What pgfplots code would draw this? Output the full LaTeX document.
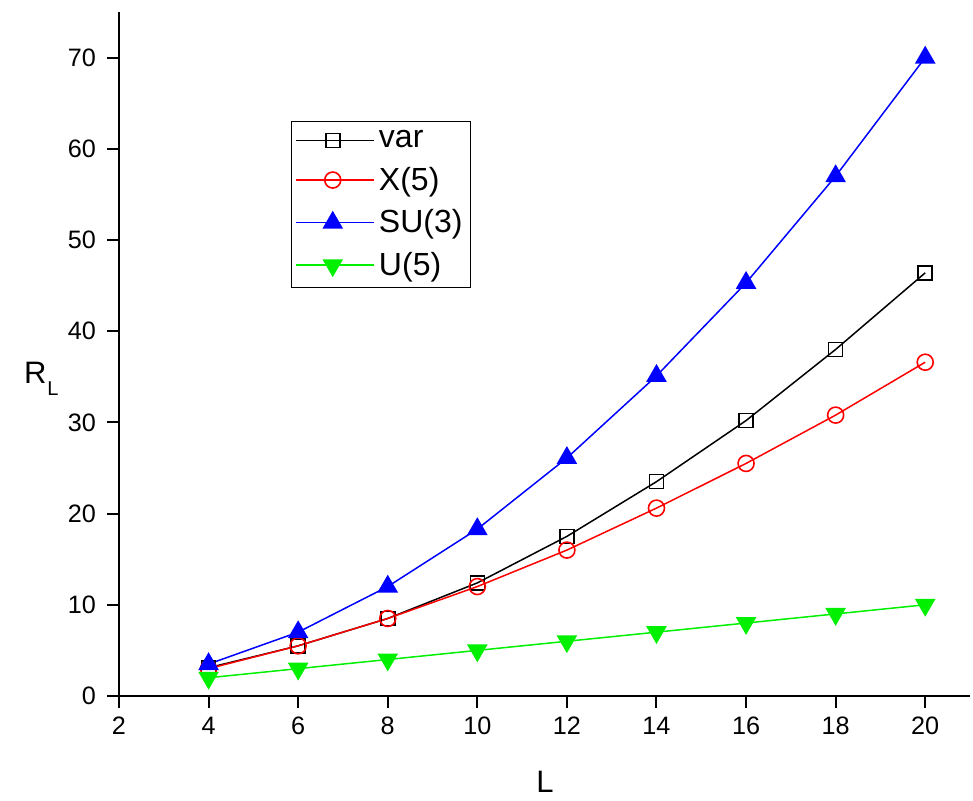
\documentclass[border=0pt]{standalone}
\usepackage{fontspec}
\setmainfont{Liberation Sans}
\usepackage{pgfplots}
\pgfplotsset{compat=1.18}
\definecolor{mygreen}{RGB}{0,240,0}
\begin{document}
\begin{tikzpicture}
\begin{axis}[
  at={(0,0)}, anchor=south west,
  scale only axis,
  width=425.5pt, height=342pt,
  xmin=2, xmax=21, ymin=0, ymax=75,
  axis x line*=bottom, axis y line*=left,
  axis line style={line width=1pt},
  xtick={2,4,...,20}, ytick={0,10,...,70},
  tick align=outside, major tick length=6pt,
  tick style={line width=1pt, black},
  /pgf/number format/assume math mode=true,
  ticklabel style={font=\fontsize{12.6}{14}\selectfont},
  xticklabel style={yshift=-1pt},
  yticklabel style={xshift=-2pt},
  xlabel={L},
  ylabel={R\kern0.5pt\raisebox{-6.5pt}{\fontsize{10}{10}\selectfont L}},
  label style={font=\fontsize{15.5}{17}\selectfont},
  xlabel style={at={(axis description cs:0.5006,-0.1418)}, anchor=base},
  ylabel style={at={(axis description cs:-0.1199,0.4576)}, anchor=base west, rotate=-90},
  legend style={at={(axis description cs:0.202,0.841)}, anchor=north west,
    draw=black, line width=0.6pt, font=\fontsize{16}{18}\selectfont,
    row sep=4.2pt, inner xsep=2pt, inner ysep=2.5pt},
  legend cell align=left,
  legend image code/.code={%
    \path (0pt,0pt) -- (39pt,0pt);
    \draw[#1,mark repeat=2,mark phase=2] plot coordinates {(0pt,0pt) (18.25pt,0pt) (36.5pt,0pt)};},
]
\addplot[black, line width=0.75pt, mark=square, mark size=3.5pt, mark options={fill=white, line width=0.8pt}]
  coordinates {(4,3.1) (6,5.5) (8,8.5) (10,12.4) (12,17.5) (14,23.5) (16,30.2) (18,38.0) (20,46.4)};
\addlegendentry{var}
\addplot[red, line width=0.75pt, mark=o, mark size=4pt, mark options={fill=white, line width=0.8pt}]
  coordinates {(4,3.0) (6,5.5) (8,8.5) (10,12.0) (12,16.0) (14,20.6) (16,25.5) (18,30.8) (20,36.6)};
\addlegendentry{X(5)}
\addplot[blue, line width=0.75pt, mark=triangle*, mark size=5.2pt, mark options={fill=blue}]
  coordinates {(4,3.5) (6,7.0) (8,12.0) (10,18.3) (12,26.1) (14,35.1) (16,45.3) (18,57.0) (20,70.0)};
\addlegendentry{SU(3)}
\addplot[mygreen, line width=0.75pt, mark=triangle*, mark size=5.2pt, mark options={fill=mygreen, rotate=180}]
  coordinates {(4,2) (6,3) (8,4) (10,5) (12,6) (14,7) (16,8) (18,9) (20,10)};
\addlegendentry{U(5)}
\end{axis}
\pgfresetboundingbox
\path[use as bounding box] (-59.5pt,-52.5pt) rectangle (427pt,348pt);
\end{tikzpicture}
\end{document}
